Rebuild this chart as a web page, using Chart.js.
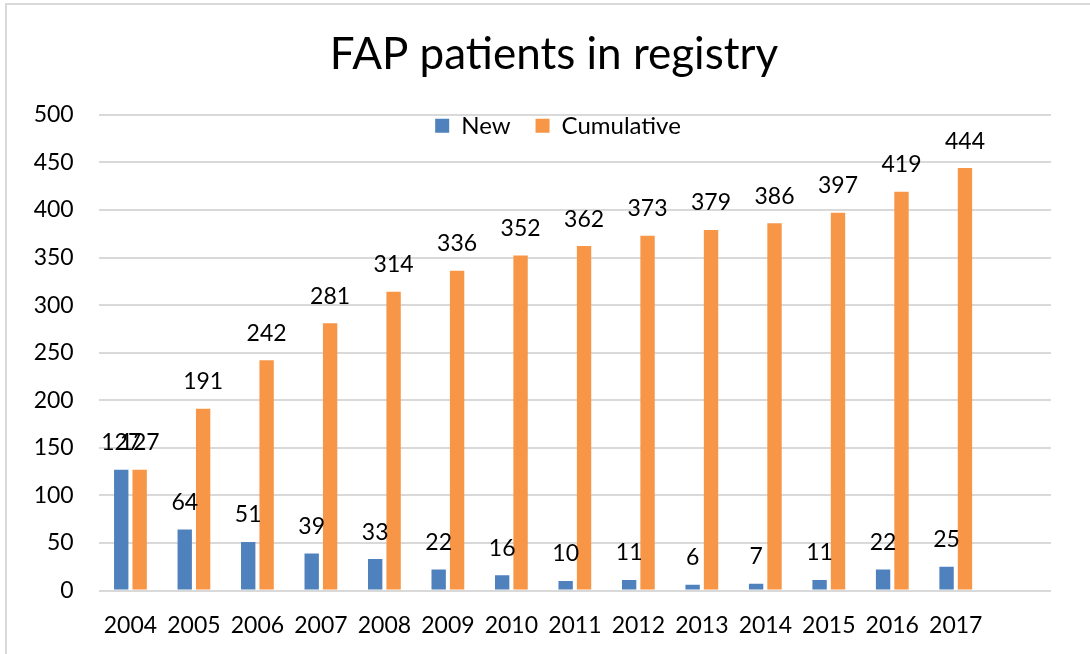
<!DOCTYPE html>
<html>
<head>
<meta charset="utf-8">
<script src="https://cdn.jsdelivr.net/npm/chart.js"></script>
<style>
  html, body { margin: 0; padding: 0; background: #fff; overflow: hidden; }
  #frame {
    position: absolute; left: 5px; top: 3px; width: 1200px; height: 800px;
    border: 2px solid #d9d9d9; box-sizing: border-box;
  }
  #wrap { position: absolute; left: 0; top: 0; width: 1090px; height: 654px; }
</style>
</head>
<body>
<div id="frame"></div>
<div id="wrap"><canvas id="chart" width="1090" height="654"></canvas></div>
<script>
// chart data
const years = ['2004', '2005', '2006', '2007', '2008', '2009', '2010', '2011', '2012', '2013', '2014', '2015', '2016', '2017', ''];
const newPatients = [127, 64, 51, 39, 33, 22, 16, 10, 11, 6, 7, 11, 22, 25, null];
const cumulative = [127, 191, 242, 281, 314, 336, 352, 362, 373, 379, 386, 397, 419, 444, null];

const FONT = 'Lato, "Open Sans", sans-serif';

// legend sits inside the plot area: small layout box, but don't clip the items
const legendInside = {
  id: 'legendInside',
  beforeInit(chart) {
    const origFit = chart.legend.fit;
    chart.legend.fit = function () {
      origFit.bind(chart.legend)();
      this.height = 26;
    };
  },
  afterLayout(chart) {
    chart.legend.bottom += 50;
    chart.legend.height += 50;
    chart.legend.left += 4;
    chart.legend.right += 4;
    // let the y tick labels use the space left of the narrow axis box
    chart.scales.y.left = 0;
  }
};

// value labels above each bar
const barLabels = {
  id: 'barLabels',
  afterDatasetsDraw(chart) {
    const ctx = chart.ctx;
    ctx.save();
    ctx.font = '23px ' + FONT;
    ctx.fillStyle = '#000';
    ctx.textAlign = 'center';
    ctx.textBaseline = 'middle';
    chart.data.datasets.forEach((ds, i) => {
      chart.getDatasetMeta(i).data.forEach((bar, j) => {
        if (ds.data[j] == null) return;
        ctx.fillText(ds.data[j], bar.x, bar.y - 27);
      });
    });
    ctx.restore();
  }
};

new Chart(document.getElementById('chart'), {
  type: 'bar',
  data: {
    labels: years,
    datasets: [
      {
        label: 'New',
        data: newPatients,
        backgroundColor: '#4F81BD',
        categoryPercentage: 0.58,
        barPercentage: 0.78
      },
      {
        label: 'Cumulative',
        data: cumulative,
        backgroundColor: '#F79646',
        categoryPercentage: 0.58,
        barPercentage: 0.78
      }
    ]
  },
  options: {
    responsive: false,
    animation: false,
    layout: {
      padding: { left: 57, right: 39, top: 0, bottom: 0 }
    },
    plugins: {
      title: {
        display: true,
        text: 'FAP patients in registry',
        color: '#000',
        font: { family: FONT, size: 44, weight: 'normal' },
        padding: { top: 28, bottom: 8 }
      },
      legend: {
        position: 'top',
        labels: {
          boxWidth: 14,
          boxHeight: 14,
          padding: 25,
          color: '#000',
          font: { family: FONT, size: 24 }
        }
      },
      tooltip: { enabled: false }
    },
    scales: {
      x: {
        grid: { display: false },
        border: { display: false },
        afterFit(scale) { scale.height = 63.5; },
        ticks: {
          color: '#000',
          padding: 13,
          font: { family: FONT, size: 23 }
        }
      },
      y: {
        min: 0,
        max: 500,
        grid: { color: '#d9d9d9', lineWidth: 2, drawTicks: false },
        border: { display: false },
        afterFit(scale) { scale.width = 41.7; },
        ticks: {
          stepSize: 50,
          color: '#000',
          padding: 25,
          font: { family: FONT, size: 23 }
        }
      }
    }
  },
  plugins: [legendInside, barLabels]
});
</script>
</body>
</html>
